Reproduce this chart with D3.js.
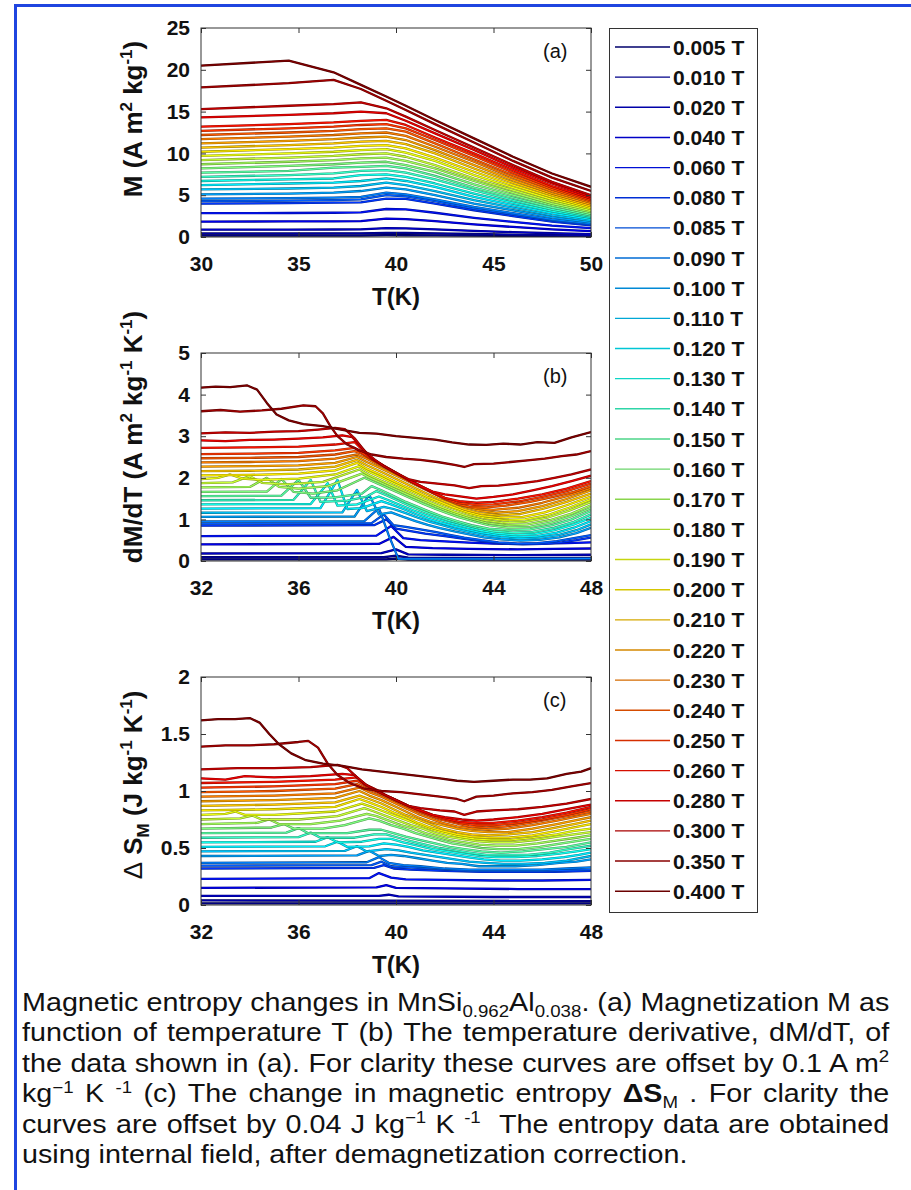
<!DOCTYPE html>
<html>
<head>
<meta charset="utf-8">
<script src="https://cdn.jsdelivr.net/npm/d3@7"></script>
<style>
body{margin:0;background:#fff;}
svg{display:block;font-family:"Liberation Sans",Arial,sans-serif;}
</style>
</head>
<body>
<div id="chart"></div>
<script>
// applied fields, one curve per field (low -> high)
var fields = ["0.005 T","0.010 T","0.020 T","0.040 T","0.060 T","0.080 T","0.085 T","0.090 T","0.100 T",
	"0.110 T","0.120 T","0.130 T","0.140 T","0.150 T","0.160 T","0.170 T","0.180 T","0.190 T","0.200 T",
	"0.210 T","0.220 T","0.230 T","0.240 T","0.250 T","0.260 T","0.280 T","0.300 T","0.350 T","0.400 T"];

// (a) magnetization, read at these temperatures
var tempA = [30, 34.5, 36.8, 38.2, 39.5, 40.5, 42, 44, 46, 48, 50];
var magnetization = [
	[0.18,0.18,0.18,0.18,0.22,0.21,0.19,0.16,0.13,0.10,0.08],
	[0.42,0.42,0.43,0.43,0.50,0.49,0.44,0.36,0.28,0.22,0.17],
	[0.88,0.89,0.90,0.91,1.05,1.03,0.92,0.74,0.58,0.45,0.35],
	[1.85,1.86,1.88,1.90,2.20,2.15,1.90,1.50,1.20,0.90,0.70],
	[2.85,2.87,2.90,2.95,3.35,3.30,2.90,2.30,1.80,1.35,1.05],
	[4.00,4.05,4.10,4.15,4.60,4.55,4.00,3.20,2.50,1.85,1.40],
	[4.30,4.35,4.40,4.50,5.00,4.85,4.30,3.40,2.70,2.00,1.50],
	[4.60,4.65,4.70,4.80,5.30,5.10,4.50,3.60,2.85,2.10,1.60],
	[5.10,5.20,5.30,5.50,5.90,5.70,5.00,4.00,3.20,2.35,1.75],
	[5.70,5.80,5.90,6.10,6.50,6.20,5.50,4.40,3.50,2.60,1.95],
	[6.20,6.40,6.50,6.70,7.00,6.70,6.00,4.80,3.80,2.85,2.10],
	[6.70,6.90,7.00,7.40,7.50,7.20,6.40,5.20,4.10,3.10,2.30],
	[7.20,7.40,7.60,7.90,8.00,7.70,6.90,5.60,4.40,3.30,2.45],
	[7.70,7.90,8.30,8.40,8.50,8.20,7.30,5.90,4.70,3.55,2.60],
	[8.20,8.50,8.70,8.90,9.00,8.60,7.80,6.30,5.00,3.80,2.80],
	[8.70,9.00,9.20,9.40,9.50,9.10,8.20,6.70,5.30,4.00,3.00],
	[9.20,9.50,9.70,9.90,10.0,9.60,8.60,7.00,5.60,4.25,3.15],
	[9.70,10.0,10.2,10.4,10.5,10.1,9.10,7.40,5.90,4.50,3.35],
	[10.2,10.5,10.7,10.9,11.0,10.6,9.50,7.80,6.20,4.75,3.50],
	[10.7,11.0,11.2,11.4,11.5,11.1,10.0,8.20,6.50,5.00,3.70],
	[11.2,11.5,11.7,11.9,12.0,11.6,10.4,8.60,6.80,5.20,3.90],
	[11.7,12.0,12.2,12.4,12.5,12.1,10.8,9.00,7.10,5.45,4.10],
	[12.2,12.5,12.7,12.9,13.0,12.6,11.2,9.30,7.40,5.70,4.25],
	[12.7,13.0,13.2,13.4,13.5,13.0,11.6,9.70,7.70,5.90,4.40],
	[13.2,13.5,13.7,13.9,14.0,13.4,11.9,10.0,8.00,6.10,4.60],
	[14.3,14.6,14.8,15.0,14.8,13.9,12.4,10.4,8.30,6.40,4.80],
	[15.3,15.7,15.9,16.1,15.4,14.4,12.8,10.7,8.60,6.60,5.00],
	[17.9,18.4,18.8,17.7,16.3,15.2,13.5,11.3,9.10,7.10,5.50],
	[20.5,21.1,19.7,18.2,16.8,15.7,14.0,11.8,9.60,7.60,6.00]
];

// (b) dM/dT, [T, value] per curve, offset curves as plotted
var dMdT = [
	[[32,0.04],[39.6,0.04],[40,0.06],[40.5,0.035],[48,0.035]],
	[[32,0.09],[39.5,0.09],[40,0.13],[40.5,0.08],[44,0.07],[48,0.075]],
	[[32,0.18],[39.4,0.19],[40,0.28],[40.5,0.16],[42,0.15],[45,0.14],[48,0.15]],
	[[32,0.4],[39.3,0.41],[39.9,0.58],[40.4,0.34],[41.5,0.31],[43,0.29],[45,0.28],[46.5,0.29],[48,0.3]],
	[[32,0.6],[39.2,0.61],[39.8,0.84],[40.3,0.55],[41,0.5],[42,0.47],[43,0.44],[44,0.42],[45,0.41],[46,0.42],[47,0.43],[48,0.45]],
	[[32,0.85],[39.1,0.86],[39.6,1.0],[40,0.78],[40.6,0.72],[41.2,0.66],[42,0.6],[42.8,0.53],[43.6,0.47],[44.4,0.42],[45.2,0.4],[46,0.41],[46.8,0.45],[47.4,0.5],[48,0.56]],
	[[32,0.9],[39,0.91],[39.5,1.12],[39.9,0.86],[40.4,0.82],[41,0.76],[41.6,0.7],[42.2,0.63],[42.8,0.56],[43.5,0.5],[44.2,0.45],[45,0.42],[45.8,0.43],[46.6,0.48],[47.3,0.55],[48,0.62]],
	[[32,0.95],[38.7,0.96],[39.3,1.27],[39.7,0.62],[40.1,0.05],[41,0.05],[44,0.05],[48,0.06]],
	[[32,1.06],[38.3,1.07],[38.9,1.59],[39.3,1.12],[39.8,1.17],[40.3,1.06],[40.8,0.96],[41.3,0.87],[41.8,0.79],[42.4,0.71],[43,0.64],[43.6,0.57],[44.3,0.52],[45.1,0.49],[45.9,0.51],[46.7,0.57],[47.4,0.67],[48,0.8]],
	[[32,1.16],[37.8,1.17],[38.4,1.71],[38.8,1.2],[39.5,1.3],[39.9,1.25],[40.4,1.15],[40.9,1.04],[41.4,0.94],[41.9,0.86],[42.4,0.78],[43,0.7],[43.6,0.63],[44.3,0.57],[45.1,0.54],[45.9,0.56],[46.7,0.63],[47.4,0.74],[48,0.88]],
	[[32,1.26],[36.9,1.27],[37.6,1.95],[38.0,1.25],[38.6,1.27],[39.4,1.44],[39.8,1.36],[40.3,1.25],[40.8,1.13],[41.3,1.02],[41.8,0.93],[42.3,0.85],[42.9,0.76],[43.5,0.68],[44.2,0.62],[45,0.58],[45.8,0.6],[46.6,0.68],[47.3,0.8],[48,0.96]],
	[[32,1.36],[36.5,1.37],[37.2,1.87],[37.6,1.33],[38.4,1.36],[39.3,1.55],[39.7,1.46],[40.2,1.34],[40.7,1.22],[41.2,1.11],[41.7,1.01],[42.2,0.92],[42.8,0.83],[43.4,0.74],[44.1,0.67],[44.9,0.63],[45.7,0.65],[46.5,0.74],[47.3,0.88],[48,1.04]],
	[[32,1.46],[35.8,1.47],[36.5,1.95],[36.9,1.42],[38,1.45],[38.8,1.55],[39.2,1.68],[39.6,1.58],[40.1,1.45],[40.6,1.32],[41.1,1.2],[41.6,1.09],[42.1,0.99],[42.7,0.89],[43.3,0.8],[44,0.72],[44.8,0.68],[45.6,0.7],[46.5,0.8],[47.3,0.94],[48,1.12]],
	[[32,1.56],[35.3,1.57],[36.0,1.95],[36.5,1.52],[37.5,1.53],[38.6,1.62],[39,1.8],[39.4,1.7],[39.9,1.56],[40.4,1.42],[40.9,1.3],[41.4,1.18],[41.9,1.07],[42.5,0.96],[43.1,0.86],[43.8,0.78],[44.6,0.74],[45.5,0.76],[46.4,0.86],[47.2,1.0],[48,1.2]],
	[[32,1.66],[34.7,1.67],[35.3,1.97],[35.8,1.66],[36.6,1.62],[37.6,1.7],[38.7,2.0],[39.1,1.9],[39.6,1.77],[40.1,1.64],[40.6,1.51],[41.1,1.38],[41.6,1.26],[42.1,1.15],[42.6,1.05],[43.2,0.95],[43.8,0.86],[44.6,0.8],[45.5,0.82],[46.4,0.93],[47.2,1.08],[48,1.27]],
	[[32,1.77],[34,1.78],[34.7,2.0],[35.2,1.78],[36,1.74],[37.2,1.8],[38.6,2.1],[39,1.98],[39.5,1.85],[40,1.72],[40.5,1.59],[41,1.46],[41.5,1.34],[42,1.22],[42.5,1.12],[43.1,1.01],[43.7,0.92],[44.5,0.86],[45.4,0.88],[46.3,0.98],[47.2,1.14],[48,1.34]],
	[[32,1.87],[33.3,1.89],[34.0,2.04],[34.5,1.88],[35.5,1.84],[37,1.9],[38.5,2.2],[38.9,2.06],[39.4,1.93],[39.9,1.8],[40.4,1.67],[40.9,1.54],[41.4,1.41],[41.9,1.29],[42.4,1.18],[43,1.07],[43.6,0.98],[44.4,0.92],[45.3,0.94],[46.2,1.04],[47.1,1.21],[48,1.42]],
	[[32,1.97],[32.7,2.0],[33.2,2.08],[33.7,1.98],[34.5,1.95],[36,1.98],[37.5,2.08],[38.5,2.28],[38.9,2.14],[39.4,2.01],[39.9,1.87],[40.4,1.74],[40.9,1.61],[41.4,1.48],[41.9,1.36],[42.4,1.25],[43,1.13],[43.6,1.04],[44.4,0.98],[45.3,1.0],[46.2,1.1],[47.1,1.28],[48,1.48]],
	[[32,2.06],[34,2.07],[36,2.1],[37.5,2.18],[38.4,2.36],[38.8,2.22],[39.3,2.09],[39.8,1.95],[40.3,1.81],[40.8,1.68],[41.3,1.54],[41.8,1.42],[42.3,1.3],[42.9,1.18],[43.5,1.09],[44.3,1.04],[45.2,1.06],[46.1,1.17],[47,1.34],[48,1.55]],
	[[32,2.16],[34,2.17],[36,2.2],[37.5,2.27],[38.4,2.43],[38.8,2.3],[39.3,2.17],[39.8,2.03],[40.3,1.89],[40.8,1.75],[41.3,1.61],[41.8,1.48],[42.3,1.36],[42.8,1.24],[43.4,1.15],[44.2,1.1],[45.1,1.13],[46,1.25],[47,1.42],[48,1.62]],
	[[32,2.27],[34,2.28],[36,2.3],[37.5,2.36],[38.4,2.5],[38.8,2.38],[39.3,2.25],[39.8,2.11],[40.3,1.97],[40.8,1.83],[41.3,1.69],[41.8,1.55],[42.3,1.42],[42.8,1.3],[43.4,1.21],[44.1,1.16],[45,1.2],[46,1.32],[47,1.49],[48,1.7]],
	[[32,2.37],[34,2.38],[36,2.4],[37.5,2.46],[38.4,2.56],[38.8,2.46],[39.2,2.34],[39.7,2.2],[40.2,2.05],[40.7,1.9],[41.2,1.75],[41.7,1.6],[42.2,1.46],[42.7,1.34],[43.3,1.26],[44,1.23],[45,1.28],[46,1.4],[47,1.56],[48,1.75]],
	[[32,2.47],[34,2.48],[36,2.5],[37.5,2.56],[38.3,2.64],[38.6,2.58],[39,2.44],[39.5,2.27],[40,2.1],[40.5,1.94],[41,1.79],[41.5,1.64],[42,1.49],[42.5,1.37],[43,1.3],[43.7,1.29],[44.5,1.33],[45.5,1.42],[46.5,1.55],[47.3,1.66],[48,1.8]],
	[[32,2.57],[34,2.58],[36,2.6],[37.5,2.66],[38.3,2.72],[38.6,2.6],[39,2.45],[39.5,2.28],[40,2.12],[40.5,1.95],[41,1.8],[41.5,1.65],[42,1.5],[42.5,1.4],[43.2,1.35],[44,1.36],[45,1.43],[46,1.54],[47,1.68],[48,1.86]],
	[[32,2.72],[34,2.73],[36,2.75],[37.5,2.8],[38.3,2.86],[38.7,2.62],[39,2.46],[39.5,2.29],[40,2.12],[40.5,1.95],[41,1.8],[41.5,1.65],[42,1.52],[42.6,1.44],[43.3,1.4],[44,1.42],[45,1.5],[46,1.6],[47,1.74],[48,1.92]],
	[[32,2.9],[33,2.88],[34,2.91],[35,2.92],[36,2.94],[37,2.97],[37.8,3.02],[38.2,2.98],[38.6,2.72],[39,2.47],[39.5,2.29],[40,2.12],[40.5,1.95],[41,1.8],[41.5,1.67],[42,1.6],[42.7,1.55],[43.3,1.5],[44,1.54],[44.8,1.6],[45.6,1.7],[46.4,1.8],[47.2,1.92],[48,2.05]],
	[[32,3.07],[33,3.09],[34,3.08],[35,3.11],[36,3.12],[36.8,3.16],[37.5,3.2],[37.9,3.17],[38.3,2.95],[38.7,2.65],[39.1,2.45],[39.5,2.28],[40,2.12],[40.5,1.97],[41,1.9],[41.7,1.86],[42.4,1.82],[43,1.75],[43.5,1.8],[44.2,1.81],[45,1.86],[45.8,1.92],[46.5,2.0],[47.2,2.08],[48,2.2]],
	[[32,3.6],[32.8,3.63],[33.6,3.59],[34.5,3.62],[35.3,3.66],[36.2,3.74],[36.7,3.72],[37.0,3.55],[37.3,3.25],[37.6,3.0],[38,2.8],[38.5,2.66],[39,2.56],[39.6,2.5],[40.3,2.46],[41,2.43],[41.7,2.38],[42.4,2.31],[42.8,2.26],[43.2,2.33],[44,2.34],[44.7,2.38],[45.4,2.42],[46.1,2.46],[46.8,2.52],[47.4,2.56],[48,2.64]],
	[[32,4.17],[32.6,4.19],[33.2,4.18],[33.9,4.22],[34.3,4.12],[34.7,3.8],[35.1,3.52],[35.6,3.38],[36.2,3.29],[37,3.24],[37.8,3.15],[38.5,3.08],[39.2,3.06],[40,3.0],[40.8,2.96],[41.6,2.92],[42.3,2.85],[43,2.8],[43.7,2.79],[44.4,2.82],[45.1,2.8],[45.8,2.86],[46.5,2.84],[47.2,2.97],[48,3.1]]
];

// (c) entropy change, [T, value] per curve, offset curves as plotted
var entropy = [
	[[32,0.015],[48,0.015]],
	[[32,0.04],[48,0.035]],
	[[32,0.08],[39.3,0.08],[39.7,0.09],[40.1,0.075],[44,0.07],[48,0.07]],
	[[32,0.15],[39.2,0.155],[39.6,0.175],[40,0.15],[42,0.145],[45,0.14],[48,0.14]],
	[[32,0.23],[38.9,0.235],[39.3,0.28],[39.8,0.24],[40.4,0.225],[42,0.22],[44,0.215],[46,0.215],[48,0.22]],
	[[32,0.32],[39.1,0.325],[39.5,0.35],[39.9,0.32],[40.6,0.31],[42,0.3],[43.5,0.29],[45,0.29],[46.5,0.29],[48,0.3]],
	[[32,0.345],[39,0.35],[39.4,0.38],[39.8,0.34],[40.5,0.33],[41.5,0.32],[43,0.3],[44.5,0.3],[46,0.3],[48,0.31]],
	[[32,0.37],[38.8,0.375],[39.3,0.42],[39.7,0.37],[40.3,0.35],[41,0.34],[42,0.32],[43,0.31],[44,0.31],[45,0.31],[46,0.31],[47,0.32],[48,0.33]],
	[[32,0.43],[38.4,0.435],[38.9,0.475],[39.3,0.43],[39.8,0.44],[40.3,0.43],[40.9,0.41],[41.5,0.39],[42.1,0.37],[42.7,0.36],[43.4,0.34],[44.1,0.34],[44.9,0.34],[45.8,0.35],[46.7,0.37],[47.4,0.38],[48,0.4]],
	[[32,0.47],[37.9,0.475],[38.4,0.515],[38.8,0.47],[39.6,0.49],[40.1,0.48],[40.6,0.46],[41.2,0.44],[41.8,0.42],[42.4,0.4],[43,0.38],[43.7,0.37],[44.4,0.36],[45.2,0.36],[46.1,0.37],[47,0.39],[48,0.43]],
	[[32,0.51],[37.1,0.515],[37.6,0.555],[38,0.51],[38.9,0.515],[39.5,0.54],[40,0.53],[40.5,0.51],[41.1,0.48],[41.7,0.46],[42.3,0.44],[42.9,0.42],[43.6,0.4],[44.3,0.39],[45.1,0.39],[46,0.4],[46.9,0.42],[47.5,0.44],[48,0.46]],
	[[32,0.55],[36.7,0.555],[37.2,0.595],[37.6,0.55],[38.6,0.555],[39.3,0.58],[39.8,0.58],[40.3,0.55],[40.9,0.52],[41.5,0.49],[42.1,0.47],[42.7,0.45],[43.4,0.43],[44.1,0.42],[44.9,0.42],[45.8,0.43],[46.7,0.45],[47.4,0.47],[48,0.49]],
	[[32,0.59],[36,0.595],[36.5,0.635],[36.9,0.59],[38.3,0.59],[39.1,0.62],[39.6,0.62],[40.1,0.59],[40.6,0.56],[41.2,0.53],[41.8,0.5],[42.4,0.48],[43,0.46],[43.7,0.44],[44.5,0.44],[45.4,0.44],[46.3,0.46],[47.1,0.49],[48,0.52]],
	[[32,0.63],[35.5,0.635],[36.0,0.675],[36.4,0.63],[38,0.63],[38.9,0.66],[39.4,0.66],[39.9,0.63],[40.4,0.6],[41,0.57],[41.6,0.54],[42.2,0.51],[42.8,0.49],[43.5,0.47],[44.3,0.46],[45.2,0.47],[46.1,0.49],[47,0.51],[48,0.55]],
	[[32,0.67],[34.9,0.68],[35.4,0.71],[35.8,0.67],[37,0.67],[37.9,0.7],[38.9,0.76],[39.3,0.74],[39.8,0.7],[40.3,0.67],[40.8,0.63],[41.3,0.6],[41.8,0.57],[42.3,0.54],[42.9,0.52],[43.5,0.5],[44.2,0.49],[45,0.49],[45.9,0.51],[46.8,0.54],[47.4,0.56],[48,0.58]],
	[[32,0.71],[34.3,0.72],[34.8,0.75],[35.2,0.71],[36.5,0.71],[37.7,0.74],[38.8,0.8],[39.2,0.78],[39.7,0.74],[40.2,0.7],[40.7,0.67],[41.2,0.63],[41.7,0.6],[42.2,0.57],[42.8,0.55],[43.4,0.53],[44.1,0.52],[44.9,0.52],[45.8,0.54],[46.7,0.57],[47.4,0.59],[48,0.61]],
	[[32,0.75],[33.6,0.76],[34.1,0.785],[34.5,0.75],[36,0.75],[37.6,0.78],[38.7,0.85],[39.1,0.82],[39.6,0.78],[40.1,0.74],[40.6,0.7],[41.1,0.67],[41.6,0.63],[42.1,0.6],[42.7,0.58],[43.3,0.56],[44,0.55],[44.8,0.55],[45.7,0.57],[46.6,0.6],[47.3,0.62],[48,0.64]],
	[[32,0.79],[33,0.8],[33.4,0.82],[33.8,0.79],[35,0.79],[37.5,0.82],[38.6,0.89],[39,0.86],[39.5,0.82],[40,0.78],[40.5,0.74],[41,0.7],[41.5,0.66],[42,0.63],[42.6,0.6],[43.2,0.58],[43.9,0.57],[44.7,0.57],[45.6,0.59],[46.6,0.62],[47.3,0.65],[48,0.67]],
	[[32,0.83],[35,0.84],[37.5,0.86],[38.5,0.93],[38.9,0.9],[39.4,0.86],[39.9,0.81],[40.4,0.77],[40.9,0.72],[41.4,0.68],[41.9,0.65],[42.5,0.62],[43.1,0.6],[43.8,0.59],[44.6,0.59],[45.6,0.61],[46.6,0.65],[47.3,0.68],[48,0.71]],
	[[32,0.87],[35,0.88],[37.5,0.9],[38.5,0.96],[38.9,0.93],[39.4,0.89],[39.9,0.84],[40.4,0.79],[40.9,0.75],[41.4,0.71],[41.9,0.67],[42.5,0.64],[43.1,0.62],[43.8,0.61],[44.6,0.62],[45.6,0.64],[46.6,0.68],[47.3,0.71],[48,0.74]],
	[[32,0.91],[35,0.92],[37.5,0.94],[38.5,1.0],[38.9,0.96],[39.4,0.92],[39.9,0.87],[40.4,0.82],[40.9,0.77],[41.4,0.73],[41.9,0.7],[42.5,0.67],[43.1,0.65],[43.8,0.64],[44.6,0.64],[45.6,0.67],[46.6,0.71],[47.3,0.74],[48,0.77]],
	[[32,0.95],[35,0.96],[37.5,0.98],[38.5,1.03],[38.9,0.99],[39.4,0.95],[39.9,0.9],[40.4,0.85],[40.9,0.8],[41.4,0.76],[41.9,0.72],[42.5,0.69],[43.1,0.67],[43.8,0.66],[44.6,0.67],[45.6,0.7],[46.6,0.74],[47.3,0.77],[48,0.8]],
	[[32,0.99],[35,1.0],[37.5,1.02],[38.4,1.06],[38.8,1.02],[39.3,0.98],[39.8,0.93],[40.3,0.88],[40.8,0.83],[41.3,0.79],[41.8,0.75],[42.4,0.72],[43,0.69],[43.7,0.68],[44.5,0.69],[45.5,0.72],[46.5,0.76],[47.3,0.79],[48,0.82]],
	[[32,1.03],[35,1.04],[37.5,1.06],[38.4,1.09],[38.8,1.04],[39.2,1.0],[39.6,0.96],[40,0.92],[40.5,0.87],[41,0.82],[41.5,0.78],[42,0.75],[42.6,0.72],[43.3,0.7],[44,0.7],[45,0.72],[46,0.75],[47,0.79],[48,0.84]],
	[[32,1.07],[35,1.08],[37.5,1.1],[38.4,1.12],[38.8,1.05],[39.2,1.01],[39.6,0.96],[40,0.92],[40.5,0.87],[41,0.83],[41.5,0.79],[42,0.76],[42.6,0.73],[43.3,0.72],[44,0.72],[45,0.74],[46,0.77],[47,0.81],[48,0.86]],
	[[32,1.11],[33,1.1],[33.8,1.13],[35,1.12],[36.5,1.13],[37.8,1.15],[38.3,1.14],[38.7,1.06],[39.1,1.02],[39.5,0.97],[40,0.92],[40.5,0.87],[41,0.83],[41.5,0.79],[42,0.77],[42.7,0.75],[43.3,0.74],[44,0.75],[45,0.77],[46,0.8],[47,0.84],[48,0.88]],
	[[32,1.19],[33.5,1.2],[35,1.2],[36.5,1.21],[37.6,1.23],[38,1.2],[38.4,1.12],[38.8,1.05],[39.2,1.0],[39.6,0.96],[40,0.92],[40.5,0.87],[41,0.85],[41.8,0.83],[42.4,0.82],[42.8,0.79],[43.3,0.82],[44,0.83],[45,0.84],[46,0.86],[47,0.89],[48,0.93]],
	[[32,1.39],[33,1.4],[34,1.4],[35,1.41],[36,1.43],[36.4,1.44],[36.8,1.38],[37.2,1.24],[37.6,1.14],[38.1,1.07],[38.7,1.02],[39.4,1.0],[40.2,0.99],[41,0.97],[41.8,0.95],[42.5,0.93],[42.8,0.91],[43.3,0.95],[44,0.96],[44.8,0.98],[45.6,0.99],[46.4,1.01],[47.2,1.04],[48,1.07]],
	[[32,1.62],[32.7,1.63],[33.4,1.63],[34,1.64],[34.4,1.6],[34.8,1.5],[35.2,1.41],[35.7,1.33],[36.3,1.27],[37,1.24],[37.8,1.22],[38.6,1.19],[39.4,1.17],[40.2,1.15],[41,1.13],[41.8,1.11],[42.5,1.09],[43.2,1.08],[44,1.09],[44.8,1.1],[45.5,1.1],[46.2,1.11],[47,1.15],[47.6,1.17],[48,1.2]]
];

var ticksA = [30, 35, 40, 45, 50];
var ticksBC = [32, 36, 40, 44, 48];
var yTicksA = [0, 5, 10, 15, 20, 25];
var yTicksB = [0, 1, 2, 3, 4, 5];
var yTicksC = [0, 0.5, 1, 1.5, 2];

var captionLines = [
	[["Magnetic entropy changes in MnSi"],["0.962","sub"],["Al"],["0.038","sub"],[". (a) Magnetization M as"]],
	[["function of temperature T (b) The temperature derivative, dM/dT, of"]],
	[["the data shown in (a). For clarity these curves are offset by 0.1 A m"],["2","sup"]],
	[["kg"],["\u22121","sup"],[" K "],["-1","sup"],[" (c) The change in magnetic entropy "],["\u0394S","b"],["M","sub"],[" . For clarity the"]],
	[["curves are offset by 0.04 J kg"],["\u22121","sup"],[" K "],["-1","sup"],["\u00a0 The entropy data are obtained"]],
	[["using internal field, after demagnetization correction."]]
];

var W = 911, H = 1190, X0 = 201, X1 = 591;
var svg = d3.select("#chart").append("svg").attr("width", W).attr("height", H);
svg.append("rect").attr("width", W).attr("height", H).attr("fill", "#fff");
svg.append("line").attr("x1", 15.5).attr("x2", 15.5).attr("y1", 4).attr("y2", H)
	.attr("stroke", "#1f45e0").attr("stroke-width", 3);
svg.append("line").attr("x1", 14).attr("x2", W).attr("y1", 5.5).attr("y2", 5.5)
	.attr("stroke", "#1f45e0").attr("stroke-width", 3);

function jet(t){
	var c = function(v){return Math.max(0, Math.min(1, v));};
	return d3.rgb(255*c(1.5-Math.abs(4*t-3)), 255*c(1.5-Math.abs(4*t-2)), 255*c(1.5-Math.abs(4*t-1)));
}

function label(g, parts, size){
	// parts: [text, "sup"|"sub"|"b"|"n"|undefined]
	var shift = 0;
	parts.forEach(function(p){
		var t = g.append("tspan").text(p[0]);
		var want = p[1]=="sup" ? -size*0.38 : p[1]=="sub" ? size*0.25 : 0;
		if(want != shift){ t.attr("dy", want-shift); shift = want; }
		if(p[1]=="sup" || p[1]=="sub") t.attr("font-size", size*0.65);
		if(p[1]=="b") t.attr("font-weight", "bold");
		if(p[1]=="n") t.attr("font-weight", "normal");
	});
}

function panel(opt){
	var x = d3.scaleLinear().domain(opt.xDomain).range([X0, X1]);
	var y = d3.scaleLinear().domain(opt.yDomain).range([opt.bottom, opt.top]);
	var g = svg.append("g");
	g.append("clipPath").attr("id", "clip"+opt.name).append("rect")
		.attr("x", X0).attr("y", opt.top).attr("width", X1-X0).attr("height", opt.bottom-opt.top);
	var line = d3.line().x(function(d){return x(d[0]);}).y(function(d){return y(d[1]);});
	var curves = g.append("g").attr("clip-path", "url(#clip"+opt.name+")");
	opt.series.forEach(function(s, i){
		var col = jet(i/(opt.series.length-1));
		curves.append("path").attr("d", line(s)).attr("fill", "none")
			.attr("stroke", col.darker(1.4)).attr("stroke-width", 2.3).attr("stroke-linejoin", "round");
		curves.append("path").attr("d", line(s)).attr("fill", "none")
			.attr("stroke", col).attr("stroke-width", 1.2).attr("stroke-linejoin", "round");
	});
	var fmt = function(d){return String(d);};
	var axes = [
		[d3.axisBottom(x).tickValues(opt.xTicks).tickFormat(fmt).tickPadding(19), "translate(0,"+opt.bottom+")"],
		[d3.axisTop(x).tickValues(opt.xTicks).tickFormat(""), "translate(0,"+opt.top+")"],
		[d3.axisLeft(y).tickValues(opt.yTicks).tickFormat(fmt).tickPadding(11), "translate("+X0+",0)"],
		[d3.axisRight(y).tickValues(opt.yTicks).tickFormat(""), "translate("+X1+",0)"]
	];
	axes.forEach(function(a){
		var ag = g.append("g").attr("transform", a[1])
			.call(a[0].tickSizeInner(-5).tickSizeOuter(0));
		ag.select(".domain").remove();
		ag.selectAll("line").attr("stroke", "#333");
		ag.selectAll("text").attr("font-size", 21).attr("font-weight", "bold").attr("fill", "#111")
			.attr("font-family", "Liberation Sans, Arial, sans-serif");
	});
	g.append("rect").attr("x", X0).attr("y", opt.top).attr("width", X1-X0).attr("height", opt.bottom-opt.top)
		.attr("fill", "none").attr("stroke", "#333").attr("stroke-width", 1);
	g.append("text").attr("x", (X0+X1)/2).attr("y", opt.bottom+68).attr("text-anchor", "middle")
		.attr("font-size", 24).attr("font-weight", "bold").attr("fill", "#111").text("T(K)");
	var yl = g.append("text").attr("transform", "translate(142,"+opt.ylabelY+") rotate(-90)")
		.attr("text-anchor", "middle").attr("font-size", 26).attr("font-weight", "bold").attr("fill", "#111");
	label(yl, opt.ylabel, 26);
	g.append("text").attr("x", 543).attr("y", opt.top+30).attr("font-size", 20).attr("fill", "#111").text(opt.tag);
}

panel({name: "a", top: 28, bottom: 237, xDomain: [30, 50], yDomain: [0, 25], xTicks: ticksA, yTicks: yTicksA,
	series: magnetization.map(function(row){return row.map(function(v, k){return [tempA[k], v];});}),
	ylabel: [["M (A m"],["2","sup"],[" kg"],["-1","sup"],[")"]], ylabelY: 119, tag: "(a)"});
panel({name: "b", top: 353, bottom: 561, xDomain: [32, 48], yDomain: [0, 5], xTicks: ticksBC, yTicks: yTicksB,
	series: dMdT,
	ylabel: [["dM/dT (A m"],["2","sup"],[" kg"],["-1","sup"],[" K"],["-1","sup"],[")"]], ylabelY: 437, tag: "(b)"});
panel({name: "c", top: 677, bottom: 905, xDomain: [32, 48], yDomain: [0, 2], xTicks: ticksBC, yTicks: yTicksC,
	series: entropy,
	ylabel: [["\u0394","n"],[" S"],["M","sub"],[" (J kg"],["-1","sup"],[" K"],["-1","sup"],[")"]], ylabelY: 785, tag: "(c)"});

// legend
var legend = svg.append("g");
legend.append("rect").attr("x", 609.5).attr("y", 28.5).attr("width", 148).attr("height", 884)
	.attr("fill", "#fff").attr("stroke", "#333");
fields.forEach(function(f, i){
	var ly = 47 + i*30.15;
	legend.append("line").attr("x1", 615).attr("x2", 670).attr("y1", ly).attr("y2", ly)
		.attr("stroke", jet(i/(fields.length-1)).darker(0.5)).attr("stroke-width", 1.4);
	legend.append("text").attr("x", 673).attr("y", ly).attr("dy", "0.36em").attr("font-size", 21)
		.attr("font-weight", "bold").attr("fill", "#111").text(f);
});

// caption: narrow the font so the widest line fits, then justify the rest by word spacing
var capSize = 25, capLeft = 22, capRight = 890;
var capTexts = captionLines.map(function(parts, k){
	var t = svg.append("text").attr("font-size", capSize).attr("fill", "#111")
		.attr("transform", "translate(" + capLeft + "," + (1011 + k*30.4) + ")");
	label(t, parts, capSize);
	return t;
});
var widths = capTexts.map(function(t){return t.node().getComputedTextLength();});
var sx = (capRight - capLeft) / d3.max(widths.slice(0, widths.length-1));
capTexts.forEach(function(t, k){
	t.attr("transform", t.attr("transform") + " scale(" + sx + ",1)");
	if(k < capTexts.length-1){
		var gaps = t.text().split(/[ \u00a0]/).length - 1;
		t.style("word-spacing", ((capRight - capLeft)/sx - widths[k])/gaps + "px");
	}
});
</script>
</body>
</html>
